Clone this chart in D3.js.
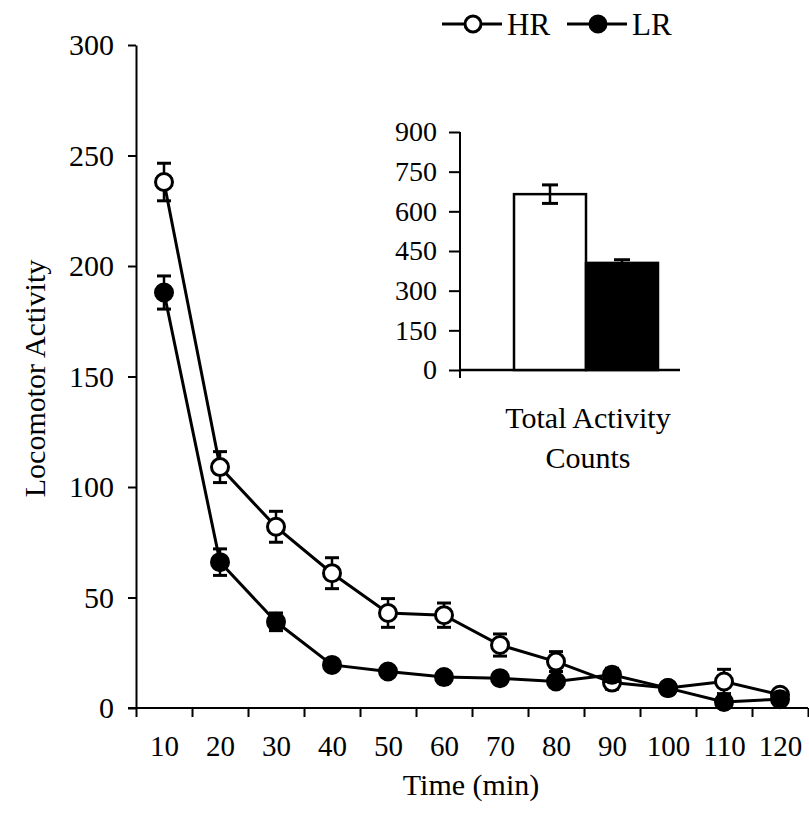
<!DOCTYPE html>
<html>
<head>
<meta charset="utf-8">
<script src="https://cdn.jsdelivr.net/npm/d3@7"></script>
<style>
  body { margin: 0; background: #fff; }
  svg text { font-family: "Liberation Serif", "Times New Roman", serif; fill: #000; }
</style>
</head>
<body>
<div id="chart"></div>
<script>
// time bins (min)
const times = [10, 20, 30, 40, 50, 60, 70, 80, 90, 100, 110, 120];
const hrMean = [238, 109, 82, 61, 43, 42, 28.5, 21, 11.5, 9, 12, 6];
const hrErr  = [8.5, 7, 7, 7, 6.5, 5.5, 5, 4.5, 3, 2, 5.5, 2];
const lrMean = [188, 66, 39, 19.5, 16.5, 14, 13.5, 12, 15, 9, 2.7, 4];
const lrErr  = [7.5, 6, 4, 2, 2, 2, 2, 2, 3, 2, 2, 2];

// inset: total counts
const groups = ["HR", "LR"];
const totalMean = [665, 405];
const totalErr  = [35, 12];
const insetTicks = [0, 150, 300, 450, 600, 750, 900];

const width = 809, height = 828;

const svg = d3.select("#chart").append("svg")
  .attr("width", width)
  .attr("height", height);

// main scales
const x = d3.scaleLinear().domain([5, 125]).range([136, 808]);
const y = d3.scaleLinear().domain([0, 300]).range([708, 45]);

// y axis
const yAxis = svg.append("g")
  .attr("transform", `translate(${x(5)},0)`)
  .call(d3.axisLeft(y).tickValues(d3.range(0, 301, 50)).tickSize(8).tickSizeOuter(0).tickPadding(14));
yAxis.selectAll("line, path").attr("stroke", "#000").attr("stroke-width", 2);
yAxis.selectAll("text").style("font-size", "30px");

// x axis: ticks at bin edges, labels at bin centres
const xEdges = svg.append("g")
  .attr("transform", `translate(0,${y(0)})`)
  .call(d3.axisBottom(x).tickValues(d3.range(5, 126, 10)).tickFormat("").tickSize(9).tickSizeOuter(0));
xEdges.select("path").attr("d", `M${x(5) - 8},0H${x(125)}`);
xEdges.selectAll("line, path").attr("stroke", "#000").attr("stroke-width", 2);

const xLabels = svg.append("g")
  .attr("transform", `translate(0,${y(0)})`)
  .call(d3.axisBottom(x).tickValues(times).tickSize(0).tickPadding(27));
xLabels.select("path").remove();
xLabels.selectAll("text").style("font-size", "29px");

// axis titles
svg.append("text")
  .attr("transform", `translate(45,${(y(0) + y(300)) / 2 + 2}) rotate(-90)`)
  .attr("text-anchor", "middle")
  .style("font-size", "30px")
  .text("Locomotor Activity");

svg.append("text")
  .attr("x", 471).attr("y", 795)
  .attr("text-anchor", "middle")
  .style("font-size", "30px")
  .text("Time (min)");

// series
const series = [
  { name: "HR", mean: hrMean, err: hrErr, fill: "#fff" },
  { name: "LR", mean: lrMean, err: lrErr, fill: "#000" }
];

const line = d3.line()
  .x(d => x(d.t))
  .y(d => y(d.v));

series.forEach(s => {
  const pts = times.map((t, i) => ({ t: t, v: s.mean[i], e: s.err[i] }));
  const g = svg.append("g");

  g.append("path")
    .datum(pts)
    .attr("d", line)
    .attr("fill", "none")
    .attr("stroke", "#000")
    .attr("stroke-width", 3);

  const eb = g.selectAll(".eb").data(pts).enter().append("g");
  eb.append("line")
    .attr("x1", d => x(d.t)).attr("x2", d => x(d.t))
    .attr("y1", d => y(d.v + d.e)).attr("y2", d => y(d.v - d.e))
    .attr("stroke", "#000").attr("stroke-width", 2.5);
  eb.selectAll(".cap")
    .data(d => [d.v + d.e, d.v - d.e].map(v => ({ t: d.t, v: v })))
    .enter().append("line")
    .attr("x1", d => x(d.t) - 7).attr("x2", d => x(d.t) + 7)
    .attr("y1", d => y(d.v)).attr("y2", d => y(d.v))
    .attr("stroke", "#000").attr("stroke-width", 3);

  g.selectAll("circle").data(pts).enter().append("circle")
    .attr("cx", d => x(d.t))
    .attr("cy", d => y(d.v))
    .attr("r", 8.5)
    .attr("fill", s.fill)
    .attr("stroke", "#000")
    .attr("stroke-width", 3);
});

// legend
const legend = svg.append("g");
const legendItems = [
  { name: "HR", fill: "#fff", x0: 442 },
  { name: "LR", fill: "#000", x0: 567 }
];
legendItems.forEach(d => {
  legend.append("line")
    .attr("x1", d.x0).attr("x2", d.x0 + 60)
    .attr("y1", 24).attr("y2", 24)
    .attr("stroke", "#000").attr("stroke-width", 3);
  legend.append("circle")
    .attr("cx", d.x0 + 31).attr("cy", 24).attr("r", 8)
    .attr("fill", d.fill).attr("stroke", "#000").attr("stroke-width", 3);
  legend.append("text")
    .attr("x", d.x0 + 65).attr("y", 35)
    .style("font-size", "31px")
    .text(d.name);
});

// inset bar chart
const yIn = d3.scaleLinear().domain([0, 900]).range([370, 132]);
const xIn = d3.scaleBand().domain(groups).range([514, 658]).padding(0);

const inset = svg.append("g");
const yInAxis = inset.append("g")
  .attr("transform", "translate(460,0)")
  .call(d3.axisLeft(yIn).tickValues(insetTicks).tickSize(11).tickSizeOuter(0).tickPadding(12));
yInAxis.select("path").attr("d", `M0,${yIn(900)}V${yIn(0) + 8}`);
yInAxis.selectAll("line, path").attr("stroke", "#000").attr("stroke-width", 2);
yInAxis.selectAll("text").style("font-size", "28px");

inset.append("line")
  .attr("x1", 460).attr("x2", 680)
  .attr("y1", yIn(0)).attr("y2", yIn(0))
  .attr("stroke", "#000").attr("stroke-width", 2.5);

inset.selectAll(".bar").data(groups).enter().append("rect")
  .attr("x", d => xIn(d))
  .attr("y", (d, i) => yIn(totalMean[i]))
  .attr("width", xIn.bandwidth())
  .attr("height", (d, i) => yIn(0) - yIn(totalMean[i]))
  .attr("fill", (d, i) => i === 0 ? "#fff" : "#000")
  .attr("stroke", "#000")
  .attr("stroke-width", 2.5);

groups.forEach((d, i) => {
  const cx = xIn(d) + xIn.bandwidth() / 2;
  const top = yIn(totalMean[i] + totalErr[i]);
  const bot = yIn(totalMean[i] - totalErr[i]);
  inset.append("line").attr("x1", cx).attr("x2", cx).attr("y1", top).attr("y2", bot)
    .attr("stroke", "#000").attr("stroke-width", 2.5);
  [top, bot].forEach(v => {
    inset.append("line").attr("x1", cx - 8).attr("x2", cx + 8).attr("y1", v).attr("y2", v)
      .attr("stroke", "#000").attr("stroke-width", 3);
  });
});

inset.append("text")
  .attr("x", 588).attr("y", 428)
  .attr("text-anchor", "middle")
  .style("font-size", "30px")
  .text("Total Activity");
inset.append("text")
  .attr("x", 588).attr("y", 468)
  .attr("text-anchor", "middle")
  .style("font-size", "30px")
  .text("Counts");
</script>
</body>
</html>
